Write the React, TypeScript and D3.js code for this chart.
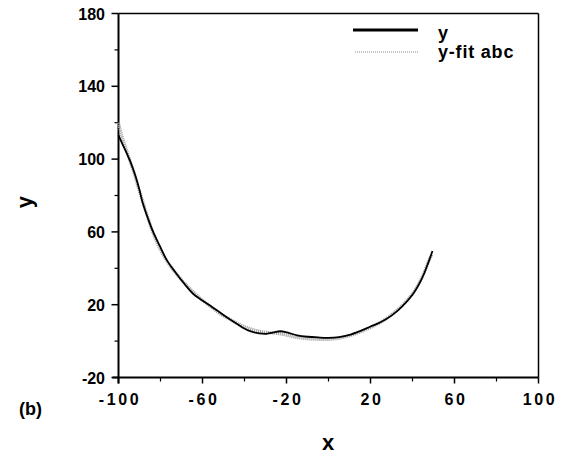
import React from "react";
import * as d3 from "d3";

// Measured curve y (black)
const yX = [-100, -98, -96, -94.5, -92, -90, -88.5, -86, -83.5, -80, -77, -73, -69, -64.5, -61, -57, -53, -49, -45, -41, -37, -33, -29.5, -26, -23, -19, -15, -10, -5, 0, 5, 10, 15, 20, 25, 30, 35, 40, 43, 45.5, 47.5, 49.5];
const yY = [113, 108, 103, 99, 91, 83, 76, 67.5, 60, 51.5, 44.5, 38, 32, 26, 23, 20, 16.8, 13.5, 10.5, 7.5, 5.3, 4.2, 4, 4.8, 5.4, 4.5, 3.2, 2.4, 2, 1.8, 2.2, 3.4, 5.5, 8, 10.5, 14, 19, 25.5, 31, 37, 43, 49.5];

// Fitted curve y-fit abc (gray dotted)
const fitX = [-100, -98.5, -96.5, -94.5, -92.5, -90.5, -88.5, -86.5, -84.5, -82, -79, -75.5, -71, -67, -63, -59, -55, -51, -47, -43, -39, -35, -31, -27, -23, -19, -15, -10, -5, 0, 5, 10, 15, 20, 25, 30, 35, 40, 43, 45.5, 47.5, 49.5];
const fitY = [120, 113, 106, 99, 92, 84, 77, 69.5, 62.5, 55, 48, 41.5, 35, 30, 25.5, 21.5, 18, 14.5, 12, 9.5, 7.5, 6, 5, 4.5, 4, 3, 2, 1.3, 1, 1, 1.6, 3, 5, 7.5, 10.5, 14.5, 19.5, 26, 31.5, 37.5, 43.5, 48];

const xMajor = [-100, -60, -20, 20, 60, 100];
const xMinor = [-80, -40, 0, 40, 80];
const yMajor = [-20, 20, 60, 100, 140, 180];
const yMinor = [0, 40, 80, 120, 160];

const seriesNames = ["y", "y-fit abc"];

export default function App() {
  const W = 566, H = 454;
  const left = 118.5, right = 538.5, top = 13.5, bottom = 377.5;
  const x = d3.scaleLinear().domain([-100, 100]).range([left, right]);
  const y = d3.scaleLinear().domain([-20, 180]).range([bottom, top]);

  const line = d3
    .line<[number, number]>()
    .x((d) => x(d[0]))
    .y((d) => y(d[1]))
    .curve(d3.curveCatmullRom);

  const dataY: [number, number][] = yX.map((v, i) => [v, yY[i]]);
  const dataFit: [number, number][] = fitX.map((v, i) => [v, fitY[i]]);

  const font = "'Liberation Sans', Arial, Helvetica, sans-serif";

  return (
    <svg
      width={W}
      height={H}
      style={{ position: "absolute", left: 0, top: 0, background: "#fff" }}
      fontFamily={font}
      fontWeight="bold"
    >
      {/* frame */}
      <line x1={left} x2={right} y1={top} y2={top} stroke="#000" strokeWidth={1.5} />
      <line x1={right} x2={right} y1={top} y2={bottom} stroke="#000" strokeWidth={1.5} />
      <line x1={left} x2={left} y1={top} y2={bottom + 6} stroke="#000" strokeWidth={2} />
      <line x1={left - 6} x2={right} y1={bottom} y2={bottom} stroke="#000" strokeWidth={2} />

      {/* x ticks */}
      {xMajor.map((t) => (
        <g key={"xM" + t}>
          <line x1={x(t)} x2={x(t)} y1={bottom} y2={bottom + 6} stroke="#000" strokeWidth={1.5} />
          <text
            x={x(t) + 1.5}
            y={405}
            textAnchor="middle"
            fontSize={16}
            letterSpacing={2.6}
          >
            {t}
          </text>
        </g>
      ))}
      {xMinor.map((t) => (
        <line key={"xm" + t} x1={x(t)} x2={x(t)} y1={bottom} y2={bottom + 4} stroke="#000" strokeWidth={1.2} />
      ))}

      {/* y ticks */}
      {yMajor.map((t) => (
        <g key={"yM" + t}>
          <line x1={left - 7} x2={left} y1={y(t)} y2={y(t)} stroke="#000" strokeWidth={1.5} />
          <text x={105} y={y(t) + 6} textAnchor="end" fontSize={16}>
            {t}
          </text>
        </g>
      ))}
      {yMinor.map((t) => (
        <line key={"ym" + t} x1={left - 4} x2={left} y1={y(t)} y2={y(t)} stroke="#000" strokeWidth={1.2} />
      ))}

      {/* curves */}
      <path
        d={line(dataFit) || ""}
        fill="none"
        stroke="#a6a6a6"
        strokeWidth={3.2}
        strokeDasharray="1.2 0.8"
      />
      <path d={line(dataY) || ""} fill="none" stroke="#000" strokeWidth={1.8} />

      {/* legend */}
      <line x1={353} x2={418} y1={30} y2={30} stroke="#000" strokeWidth={3} />
      <line x1={355} x2={418} y1={52} y2={52} stroke="#888" strokeWidth={1} strokeDasharray="1 1" />
      <text x={438} y={39} fontSize={18} letterSpacing={0.8}>
        {seriesNames[0]}
      </text>
      <text x={438} y={58} fontSize={18} letterSpacing={0.8}>
        {seriesNames[1]}
      </text>

      {/* axis titles */}
      <text x={328} y={450} textAnchor="middle" fontSize={22}>
        x
      </text>
      <text
        transform="translate(32,202) rotate(-90)"
        textAnchor="middle"
        fontSize={22}
      >
        y
      </text>
      <text x={19} y={415} fontSize={18}>
        (b)
      </text>
    </svg>
  );
}
